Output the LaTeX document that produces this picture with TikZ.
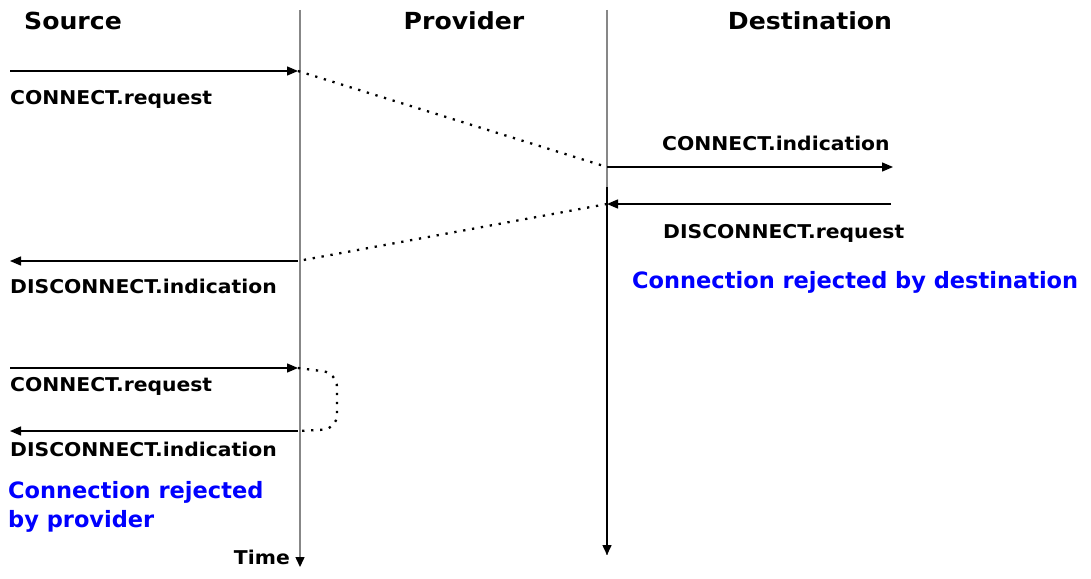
\documentclass[tikz,border=0pt]{standalone}
\usepackage{fontspec}
\setmainfont{DejaVu Sans}
\newfontfamily\wideFont[FakeStretch=1.07]{DejaVu Sans}
\usetikzlibrary{arrows.meta,calc}
\definecolor{LaneClr}{RGB}{135,135,135}
\definecolor{NoteClr}{RGB}{0,0,255}

\begin{document}
\begin{tikzpicture}[x=1pt,y=-1pt,
  msg/.style={line width=1.4pt,-{Triangle[length=11pt,width=9pt]}},
  lane/.style={line width=1.5pt,color=LaneClr},
  dots/.style={line width=2.3pt,dash pattern=on 2.3pt off 6.7pt},
  head/.style={font=\wideFont\bfseries\fontsize{23.5}{28}\selectfont,inner sep=0pt,anchor=base},
  lbl/.style={font=\wideFont\bfseries\fontsize{19}{22}\selectfont,inner sep=0pt,anchor=base west},
  note/.style={font=\bfseries\fontsize{22.5}{29}\selectfont,color=NoteClr,inner sep=0pt,align=left}]
\useasboundingbox[fill=white] (0,0) rectangle (1091,578);

% Lane end points.
\coordinate (P0) at (300,10);  \coordinate (P1) at (300,567);
\coordinate (D0) at (607,10);  \coordinate (Dm) at (607,187);
\coordinate (D1) at (607,555);

% Message points.
\coordinate (S1) at (10,71);   \coordinate (P2) at (298,71);
\coordinate (D2) at (607,167); \coordinate (E2) at (893,167);
\coordinate (E3) at (891,204); \coordinate (D3) at (607,204);
\coordinate (P4) at (298,261); \coordinate (S4) at (10,261);
\coordinate (S5) at (10,368);  \coordinate (P5) at (298,368);
\coordinate (P6) at (298,431); \coordinate (S6) at (10,431);

% Draw lanes.
\draw[lane,-{Triangle[length=10pt,width=9pt,color=black]}] (P0) -- (P1);
\draw[lane] (D0) -- (D1);
\draw[line width=1.5pt,-{Triangle[length=10pt,width=9pt]}] (Dm) -- (D1);

% Headings.
\node[head] (src) at (73,30) {Source};
\node[head] (prv) at (464,30) {Provider};
\node[head] (dst) at (810,30) {Destination};

% Rejected by destination.
\draw[msg] (S1) -- (P2);
\draw[dots] (P2) -- (D2);
\draw[msg] (D2) -- (E2);
\draw[msg] (E3) -- (D3);
\draw[dots] (D3) -- (P4);
\draw[msg] (P4) -- (S4);

\node[lbl] (creq1) at (10,104) {CONNECT.request};
\node[lbl] (cind) at (662,150) {CONNECT.indication};
\node[lbl] (dreq) at (663,238) {DISCONNECT.request};
\node[lbl] (dind1) at (10,293) {DISCONNECT.indication};
\node[note,anchor=base west] (rejd) at (632,288) {Connection rejected by destination};

% Rejected by provider.
\draw[msg] (S5) -- (P5);
\draw[dots,rounded corners=14pt] (P5) -- (337,373) -- (337,429) -- (P6);
\draw[msg] (P6) -- (S6);

\node[lbl] (creq2) at (10,391) {CONNECT.request};
\node[lbl] (dind2) at (10,456) {DISCONNECT.indication};
\node[note,anchor=north west] (rejp) at (8,481) {Connection rejected\\by provider};

\node[lbl,anchor=base east] (time) at (290,564) {Time};

\end{tikzpicture}
\end{document}
